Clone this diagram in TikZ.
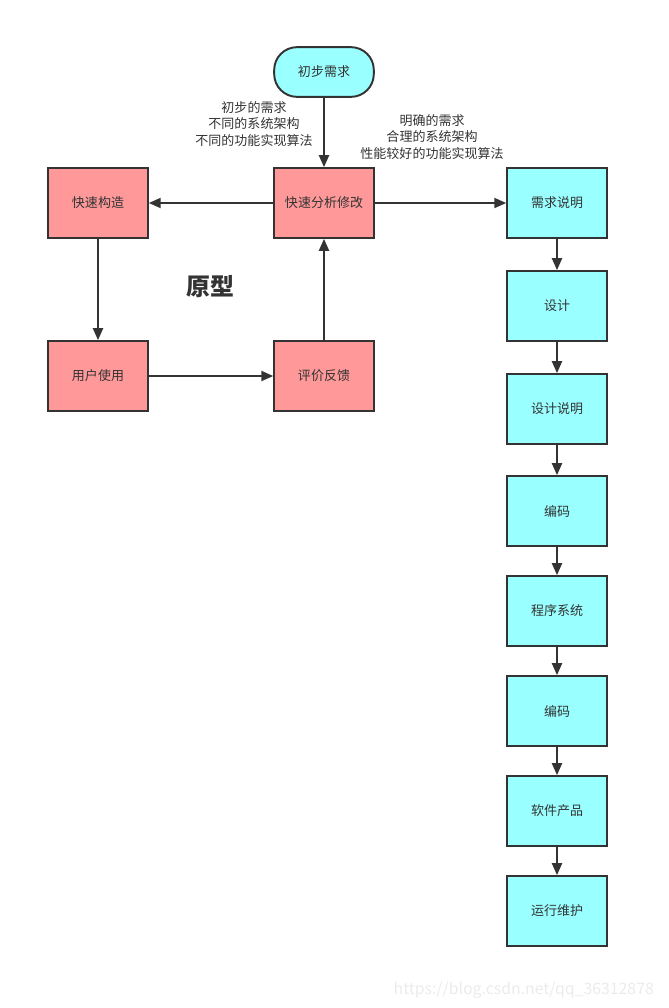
\documentclass[tikz,border=0pt]{standalone}
\usepackage{fontspec}
\setmainfont{Noto Sans CJK SC}
\usepackage{xcolor}
\usetikzlibrary{arrows.meta}
\definecolor{lineclr}{HTML}{333333}
\definecolor{protofill}{HTML}{FF9999}
\definecolor{stepfill}{HTML}{99FFFF}
\tikzset{box/.style={draw=lineclr,line width=1.1pt,minimum width=56.7pt,minimum height=39.7pt,inner sep=0pt,font=\fontsize{7.4}{9}\selectfont,text=lineclr},
 proto/.style={box,fill=protofill},
 stepbox/.style={box,fill=stepfill},
 startbox/.style={box,fill=stepfill,rounded corners=13pt,minimum height=28.3pt},
 flow/.style={draw=lineclr,line width=1.1pt,-{Triangle[length=6.8pt,width=5.7pt]}},
 note/.style={align=center,font=\fontsize{7.4}{9.2}\selectfont,text=lineclr,inner sep=0pt},
 }

\begin{document}
\begin{tikzpicture}[x=0.02cm,y=-0.02cm]
        \useasboundingbox (0,0) rectangle (669,1008);
        % prototype loop
        \node[startbox] (start) at (324,72) {初步需求};
        \node[proto] (analyse) at (324,203) {快速分析修改};
        \node[proto] (build) at (98,203) {快速构造};
        \node[proto] (use) at (98,376) {用户使用};
        \node[proto] (review) at (324,376) {评价反馈};
        \node[font=\fontsize{13.6}{16}\selectfont\bfseries,text=lineclr] (title) at (210,287) {原型};
        % final product chain
        \node[stepbox] (req) at (557,203) {需求说明};
        \node[stepbox] (design) at (557,306) {设计};
        \node[stepbox] (spec) at (557,409) {设计说明};
        \node[stepbox] (code) at (557,511) {编码};
        \node[stepbox] (prog) at (557,611) {程序系统};
        \node[stepbox] (code2) at (557,711) {编码};
        \node[stepbox] (product) at (557,811) {软件产品};
        \node[stepbox] (maint) at (557,911) {运行维护};
        % notes
        \node[note] (note1) at (254,124) {初步的需求\\不同的系统架构\\不同的功能实现算法};
        \node[note] (note2) at (432,137) {明确的需求\\合理的系统架构\\性能较好的功能实现算法};
        \node[anchor=east,font=\fontsize{9}{10}\selectfont,text=black!8] (mark) at (660,990) {https://blog.csdn.net/qq\_36312878};
        % connectors
        \draw[flow] (start) -- (analyse);
        \draw[flow] (analyse) -- (build);
        \draw[flow] (build) -- (use);
        \draw[flow] (use) -- (review);
        \draw[flow] (review) -- (analyse);
        \draw[flow] (analyse) -- (req);
        \draw[flow] (req) -- (design);
        \draw[flow] (design) -- (spec);
        \draw[flow] (spec) -- (code);
        \draw[flow] (code) -- (prog);
        \draw[flow] (prog) -- (code2);
        \draw[flow] (code2) -- (product);
        \draw[flow] (product) -- (maint);
    \end{tikzpicture}
\end{document}
